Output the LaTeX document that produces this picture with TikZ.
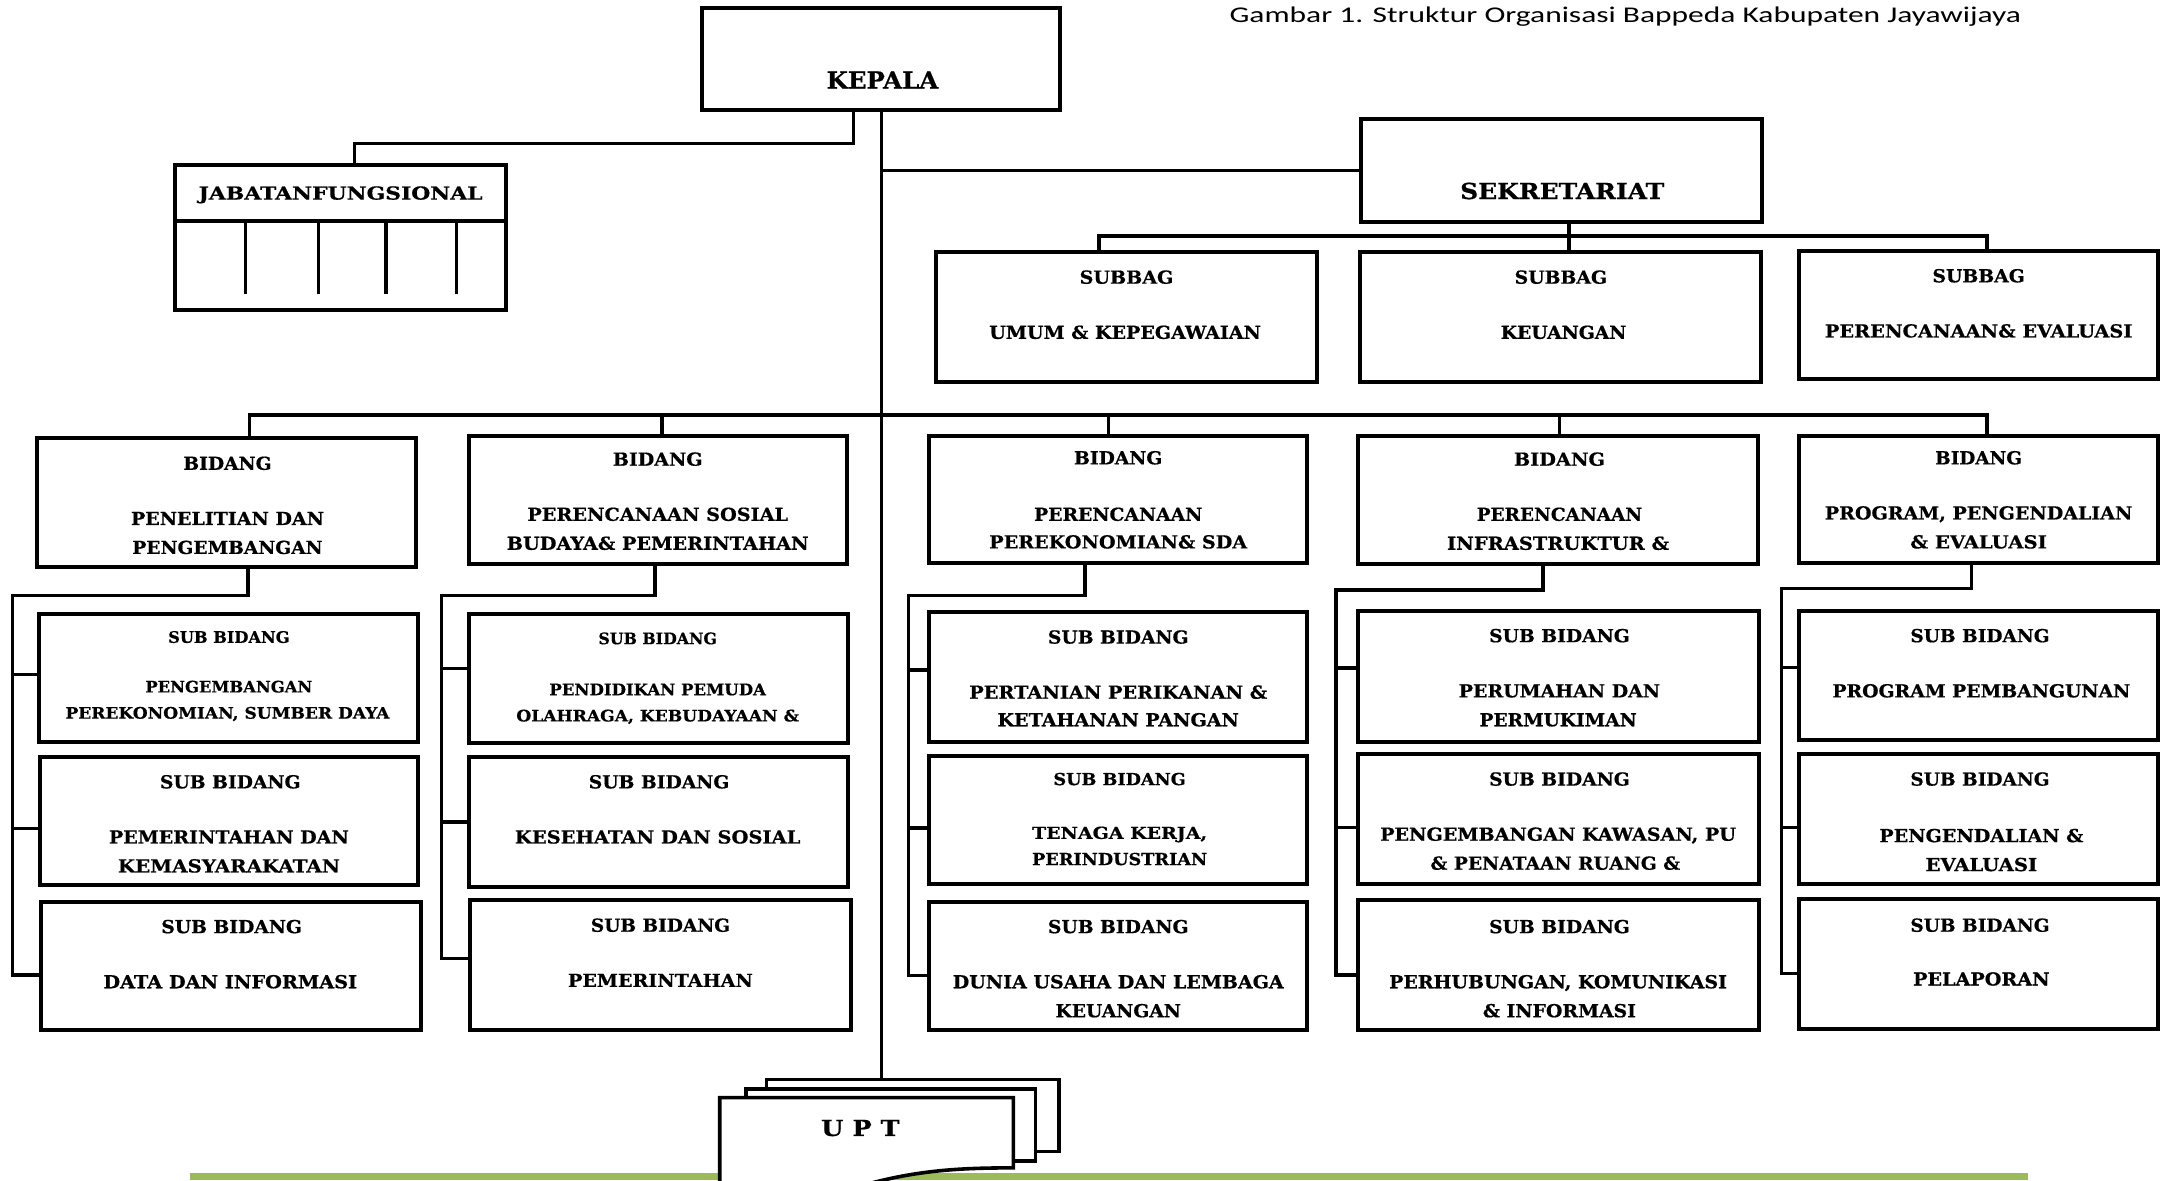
\documentclass[tikz,border=0pt]{standalone}
\usepackage{fontspec}
\usepackage{graphicx}
\setmainfont{DejaVu Serif}[BoldFeatures={FakeBold=0.6}]
\newfontfamily\capfont{Carlito}
\usetikzlibrary{calc}
\definecolor{barGreen}{HTML}{9BBB59}
\newcounter{tcnt}
\newcommand\orgbox[5]{\node[box,minimum width={(#4-#2)*1pt},minimum height={(#5-#3)*1pt}] (#1) at ({(#2+#4)/2},{(#3+#5)/2}) {};}
\newcommand\orgtxt[5][13]{\stepcounter{tcnt}\node[txt] (t\thetcnt) at (#2,{#3+0.365*#1}) {\fontsize{#1}{#1}\selectfont\resizebox{#4pt}{\height}{#5}};}
\begin{document}
\begin{tikzpicture}[x=1pt,y=-1pt,
  box/.style={draw,line width=2.9pt,fill=white,inner sep=0pt,outer sep=0pt},
  conn/.style={line width=2.5pt},
  mainl/.style={line width=2.1pt},
  sheet/.style={draw,line width=2.6pt,fill=white},
  txt/.style={anchor=base,inner sep=0pt,font=\bfseries}]
\useasboundingbox (0,0) rectangle (1568,856);
\clip (0,0) rectangle (1568,856);

% caption
\node[anchor=base east,inner sep=0pt] (cap) at (1466,16.5) {\capfont\fontsize{16.3}{18}\selectfont\resizebox{574pt}{\height}{Gambar 1. Struktur Organisasi Bappeda Kabupaten Jayawijaya}};

% top level boxes
\orgbox{kepala}{509}{6}{769}{80}
\orgbox{jab}{127}{120}{367}{225}
\orgbox{sek}{987}{86}{1278}{161}
\orgbox{sb1}{679}{183}{955}{277}
\orgbox{sb2}{986}{183}{1277}{277}
\orgbox{sb3}{1305}{182}{1565}{275}

% bidang
\orgbox{b1}{27}{318}{302}{411}
\orgbox{b2}{340}{316}{614}{409}
\orgbox{b3}{674}{316}{948}{408}
\orgbox{b4}{985}{316}{1275}{409}
\orgbox{b5}{1305}{316}{1565}{408}

% sub bidang
\orgbox{s11}{28}{445}{303}{538}
\orgbox{s12}{29}{549}{303}{642}
\orgbox{s13}{30}{654}{305}{747}
\orgbox{s21}{340}{445}{615}{539}
\orgbox{s22}{340}{549}{615}{643}
\orgbox{s23}{341}{653}{617}{747}
\orgbox{s31}{674}{444}{948}{538}
\orgbox{s32}{674}{548}{948}{641}
\orgbox{s33}{674}{654}{948}{747}
\orgbox{s41}{985}{443}{1276}{538}
\orgbox{s42}{985}{547}{1276}{641}
\orgbox{s43}{985}{653}{1276}{747}
\orgbox{s51}{1305}{443}{1565}{537}
\orgbox{s52}{1305}{547}{1565}{641}
\orgbox{s53}{1305}{652}{1565}{746}

% jabatan fungsional inner lines
\draw[line width=2.9pt] (jab.west |- 0,160) -- (jab.east |- 0,160);
\foreach \xx in {178,231,280,331} \draw[conn] (\xx,161) -- (\xx,213);

% green bar and UPT
\fill[barGreen] (138,850.5) rectangle (1471,856);
\node[sheet,minimum width=212pt,minimum height=52pt,inner sep=0pt,outer sep=0pt] (upt3) at (662,809) {};
\node[sheet,minimum width=210pt,minimum height=52pt,inner sep=0pt,outer sep=0pt] (upt2) at (646,816) {};
\draw[sheet] (522,870) -- (522,796) -- (735,796) -- (735,847) .. controls (690,847) and (650,849) .. (595,870) -- cycle;

% connectors
\draw[mainl] (kepala.south) -- (kepala.south |- upt3.north);
\draw[conn] ([xshift=-20pt]kepala.south) -- ++(0,24) -| ([xshift=10pt]jab.north);
\draw[conn] (sek.west) -- (sek.west -| kepala.south);
\coordinate (sbj) at ([xshift=5.5pt]sek.south);
\draw[conn] (sbj) -- (sbj |- sb2.north);
\draw[conn] ([xshift=-20pt]sb1.north) -- ++(0,-12) -| ([xshift=6pt]sb3.north);

\draw[conn] ([xshift=16.5pt]b1.north) -- ++(0,-17) -| ([xshift=6pt]b5.north);
\draw[conn] ([xshift=3pt]b2.north) -- ++(0,-15);
\draw[conn] ([xshift=-7pt]b3.north) -- ++(0,-15);
\draw[conn] ([xshift=1pt]b4.north) -- ++(0,-15);

% column 1
\draw[conn] ([xshift=15.5pt]b1.south) -- ++(0,21) -| ($(s13.west)+(-21,6.5)$) -- ($(s13.west)+(0,6.5)$);
\draw[conn] ($(s11.west)+(-19,-2.5)$) -- ($(s11.west)+(0,-2.5)$);
\draw[conn] ($(s12.west)+(-20,5.5)$) -- ($(s12.west)+(0,5.5)$);
% column 2
\draw[conn] ([xshift=-2pt]b2.south) -- ++(0,23) -| ($(s23.west)+(-21,-5)$) -- ($(s23.west)+(0,-5)$);
\draw[conn] ($(s21.west)+(-20,-7)$) -- ($(s21.west)+(0,-7)$);
\draw[conn] ($(s22.west)+(-20,0)$) -- ($(s22.west)+(0,0)$);
% column 3
\draw[conn] ([xshift=-24pt]b3.south) -- ++(0,24) -| ($(s33.west)+(-15,7)$) -- ($(s33.west)+(0,7)$);
\draw[conn] ($(s31.west)+(-15,-5)$) -- ($(s31.west)+(0,-5)$);
\draw[conn] ($(s32.west)+(-15,6)$) -- ($(s32.west)+(0,6)$);
% column 4
\draw[conn] ([xshift=-11pt]b4.south) -- ++(0,19) -| ($(s43.west)+(-16,7)$) -- ($(s43.west)+(0,7)$);
\draw[conn] ($(s41.west)+(-16,-6)$) -- ($(s41.west)+(0,-6)$);
\draw[conn] ($(s42.west)+(-16,6)$) -- ($(s42.west)+(0,6)$);
% column 5
\draw[conn] ([xshift=-5pt]b5.south) -- ++(0,19) -| ($(s53.west)+(-13,7)$) -- ($(s53.west)+(0,7)$);
\draw[conn] ($(s51.west)+(-13,-6)$) -- ($(s51.west)+(0,-6)$);
\draw[conn] ($(s52.west)+(-13,6)$) -- ($(s52.west)+(0,6)$);

% texts
\orgtxt[17]{640}{58}{81}{KEPALA}
\orgtxt[16]{1133}{138.5}{148}{SEKRETARIAT}
\orgtxt{247}{140}{206}{JABATANFUNGSIONAL}
\orgtxt{817}{201}{68}{SUBBAG}
\orgtxt{816}{241}{197}{UMUM \& KEPEGAWAIAN}
\orgtxt{1132}{201}{67}{SUBBAG}
\orgtxt{1134}{241}{91}{KEUANGAN}
\orgtxt{1435}{200}{67}{SUBBAG}
\orgtxt{1435}{240}{223}{PERENCANAAN\& EVALUASI}

\orgtxt{165}{336}{64}{BIDANG}
\orgtxt{165}{376}{140}{PENELITIAN DAN}
\orgtxt{165}{397}{138}{PENGEMBANGAN}
\orgtxt{477}{333}{65}{BIDANG}
\orgtxt{477}{373}{189}{PERENCANAAN SOSIAL}
\orgtxt{477}{394}{219}{BUDAYA\& PEMERINTAHAN}
\orgtxt{811}{332}{64}{BIDANG}
\orgtxt{811}{373}{122}{PERENCANAAN}
\orgtxt{811}{393}{187}{PEREKONOMIAN\& SDA}
\orgtxt{1131}{333}{66}{BIDANG}
\orgtxt{1131}{373}{120}{PERENCANAAN}
\orgtxt{1130}{394}{161}{INFRASTRUKTUR \&}
\orgtxt{1435}{332}{63}{BIDANG}
\orgtxt{1435}{372}{223}{PROGRAM, PENGENDALIAN}
\orgtxt{1435}{393}{99}{\& EVALUASI}

\orgtxt[11.5]{166}{462}{88}{SUB BIDANG}
\orgtxt[11.5]{166}{498}{121}{PENGEMBANGAN}
\orgtxt[11.5]{165}{517}{235}{PEREKONOMIAN, SUMBER DAYA}
\orgtxt{167}{567}{102}{SUB BIDANG}
\orgtxt{166}{607}{174}{PEMERINTAHAN DAN}
\orgtxt{166}{628}{161}{KEMASYARAKATAN}
\orgtxt{168}{672}{102}{SUB BIDANG}
\orgtxt{167}{712}{184}{DATA DAN INFORMASI}

\orgtxt[11.5]{477}{463}{86}{SUB BIDANG}
\orgtxt[11.5]{477}{500}{157}{PENDIDIKAN PEMUDA}
\orgtxt[11.5]{477}{519}{205}{OLAHRAGA, KEBUDAYAAN \&}
\orgtxt{478}{567}{102}{SUB BIDANG}
\orgtxt{477}{607}{207}{KESEHATAN DAN SOSIAL}
\orgtxt{479}{671}{101}{SUB BIDANG}
\orgtxt{479}{711}{134}{PEMERINTAHAN}

\orgtxt{811}{462}{102}{SUB BIDANG}
\orgtxt{811}{502}{216}{PERTANIAN PERIKANAN \&}
\orgtxt{811}{522}{175}{KETAHANAN PANGAN}
\orgtxt[12]{812}{565}{96}{SUB BIDANG}
\orgtxt[12]{812}{604}{127}{TENAGA KERJA,}
\orgtxt[12]{812}{623}{127}{PERINDUSTRIAN}
\orgtxt{811}{672}{102}{SUB BIDANG}
\orgtxt{811}{712}{240}{DUNIA USAHA DAN LEMBAGA}
\orgtxt{811}{733}{91}{KEUANGAN}

\orgtxt{1131}{461}{102}{SUB BIDANG}
\orgtxt{1131}{501}{146}{PERUMAHAN DAN}
\orgtxt{1130}{522}{114}{PERMUKIMAN}
\orgtxt{1131}{565}{102}{SUB BIDANG}
\orgtxt{1130}{605}{258}{PENGEMBANGAN KAWASAN, PU}
\orgtxt{1128}{626}{181}{\& PENATAAN RUANG \&}
\orgtxt{1131}{672}{102}{SUB BIDANG}
\orgtxt{1130}{712}{245}{PERHUBUNGAN, KOMUNIKASI}
\orgtxt{1131}{733}{111}{\& INFORMASI}

\orgtxt{1436}{461}{101}{SUB BIDANG}
\orgtxt{1437}{501}{216}{PROGRAM PEMBANGUNAN}
\orgtxt{1436}{565}{101}{SUB BIDANG}
\orgtxt{1437}{606}{148}{PENGENDALIAN \&}
\orgtxt{1437}{627}{81}{EVALUASI}
\orgtxt{1436}{671}{101}{SUB BIDANG}
\orgtxt{1437}{710}{99}{PELAPORAN}

\orgtxt[16]{624}{818}{57}{U P T}
\end{tikzpicture}
\end{document}
